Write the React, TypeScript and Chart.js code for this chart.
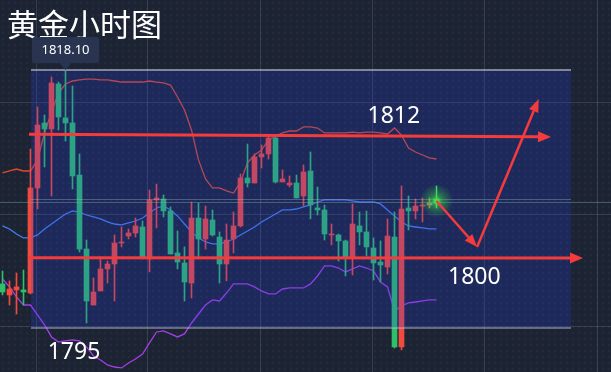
import { useEffect, useRef } from "react";
import { Chart, registerables } from "chart.js";

Chart.register(...registerables);

// ---- Hourly gold candles (index 0..62) ----
const opens = [
  1797.49, 1796.42, 1796.91, 1796.91, 1796.61, 1806.78, 1813.07, 1812.49, 1816.84, 1813.55,
  1813.07, 1808.03, 1800.87, 1795.45, 1796.81, 1798.94, 1799.42, 1801.45, 1802.13, 1802.42,
  1803.0, 1799.91, 1805.62, 1805.71, 1804.55, 1800.49, 1799.52, 1797.58, 1803.87, 1801.84,
  1803.68, 1802.03, 1799.42, 1801.84, 1803.1, 1807.74, 1807.26, 1809.78, 1810.07, 1811.61,
  1807.36, 1807.07, 1807.26, 1806.0, 1808.42, 1804.84, 1804.65, 1802.23, 1802.23, 1801.65,
  1800.1, 1803.1, 1802.52, 1800.97, 1799.61, 1799.13, 1802.03, 1791.39, 1804.84, 1804.55,
  1805.03, 1805.13, 1805.71,
];
const highs = [
  1798.74, 1797.78, 1798.55, 1798.84, 1810.55, 1814.61, 1813.84, 1817.52, 1817.03, 1818.1,
  1816.65, 1810.07, 1801.74, 1798.07, 1800.1, 1799.71, 1802.23, 1803.0, 1802.81, 1803.87,
  1803.58, 1806.58, 1807.16, 1806.1, 1804.94, 1802.61, 1801.07, 1805.42, 1805.32, 1805.03,
  1804.65, 1802.52, 1803.29, 1804.45, 1808.13, 1811.03, 1810.07, 1810.94, 1811.81, 1811.71,
  1808.52, 1807.94, 1808.03, 1809.0, 1810.26, 1806.87, 1805.13, 1803.29, 1802.32, 1801.74,
  1805.23, 1804.45, 1804.55, 1801.94, 1801.65, 1803.78, 1804.45, 1806.97, 1806.0, 1805.71,
  1805.81, 1805.81, 1806.97,
];
const lows = [
  1796.42, 1795.45, 1794.58, 1795.45, 1796.52, 1804.74, 1808.81, 1806.0, 1812.39, 1811.32,
  1806.68, 1800.58, 1793.71, 1795.45, 1796.81, 1797.58, 1795.84, 1801.07, 1801.84, 1802.03,
  1799.91, 1798.65, 1802.91, 1803.97, 1800.39, 1798.94, 1795.84, 1796.13, 1799.91, 1800.87,
  1802.13, 1797.58, 1797.78, 1800.49, 1803.0, 1806.87, 1807.26, 1808.71, 1809.58, 1807.26,
  1807.36, 1806.87, 1805.81, 1805.03, 1803.78, 1804.16, 1801.74, 1801.26, 1799.71, 1798.26,
  1798.36, 1801.26, 1800.2, 1797.87, 1797.68, 1798.45, 1791.29, 1791.1, 1802.71, 1803.78,
  1803.49, 1804.84, 1804.84,
];
const closes = [
  1796.71, 1797.0, 1797.2, 1796.71, 1806.78, 1812.87, 1812.49, 1816.94, 1813.65, 1813.07,
  1807.94, 1800.87, 1795.84, 1796.71, 1798.94, 1799.42, 1801.45, 1801.55, 1802.42, 1803.1,
  1800.0, 1805.62, 1805.81, 1804.55, 1800.39, 1799.61, 1797.68, 1803.87, 1801.84, 1803.78,
  1802.23, 1799.42, 1801.74, 1803.1, 1807.74, 1807.26, 1809.78, 1810.07, 1811.61, 1807.36,
  1807.65, 1807.26, 1805.81, 1808.32, 1805.13, 1804.65, 1802.32, 1802.32, 1801.65, 1800.1,
  1803.29, 1802.52, 1801.07, 1799.52, 1799.32, 1802.13, 1791.39, 1804.74, 1804.55, 1805.03,
  1805.13, 1805.32, 1805.32,
];

// ---- Bollinger bands ----
const upperBand = [
  1808.23, 1808.42, 1808.61, 1808.42, 1808.42, 1809.49, 1812.1, 1814.13, 1815.97, 1816.84,
  1817.13, 1817.23, 1817.32, 1817.32, 1817.23, 1817.23, 1817.13, 1817.03, 1817.03, 1817.03,
  1817.03, 1817.13, 1817.03, 1816.94, 1816.74, 1815.58, 1814.32, 1812.39, 1809.49, 1807.65,
  1806.78, 1806.78, 1806.49, 1806.29, 1807.36, 1809.2, 1809.97, 1810.45, 1811.42, 1811.81,
  1812.1, 1812.29, 1812.29, 1812.68, 1812.68, 1812.58, 1812.1, 1812.1, 1812.1, 1812.1,
  1812.19, 1812.1, 1812.19, 1812.19, 1812.1, 1812.0, 1812.58, 1811.9, 1810.65, 1810.26,
  1809.97, 1809.68, 1809.58,
];
const middleBand = [
  1803.1, 1802.81, 1802.32, 1801.94, 1801.94, 1802.23, 1802.81, 1803.29, 1803.78, 1804.26,
  1804.55, 1804.45, 1804.16, 1803.97, 1803.78, 1803.49, 1803.29, 1803.2, 1803.39, 1803.58,
  1803.87, 1804.36, 1804.84, 1805.03, 1804.65, 1804.07, 1803.29, 1802.52, 1801.94, 1801.55,
  1801.36, 1801.36, 1801.55, 1801.84, 1802.23, 1802.61, 1803.0, 1803.49, 1803.87, 1804.26,
  1804.65, 1804.65, 1804.74, 1804.94, 1805.13, 1805.42, 1805.62, 1805.62, 1805.62, 1805.62,
  1805.52, 1805.42, 1805.42, 1805.42, 1805.23, 1804.65, 1804.07, 1803.49, 1803.1, 1803.0,
  1802.91, 1802.81, 1802.81,
];
const lowerBand = [
  1797.97, 1797.2, 1796.23, 1795.45, 1795.45, 1794.49, 1793.52, 1792.36, 1791.87, 1791.97,
  1792.07, 1791.97, 1791.39, 1790.52, 1790.13, 1789.65, 1789.45, 1789.36, 1789.84, 1790.23,
  1790.71, 1791.78, 1792.84, 1792.94, 1792.65, 1792.36, 1792.65, 1793.71, 1794.58, 1795.45,
  1795.94, 1795.84, 1796.61, 1797.49, 1797.49, 1797.49, 1797.2, 1796.81, 1796.52, 1796.52,
  1797.0, 1797.1, 1797.1, 1797.1, 1797.49, 1798.26, 1799.23, 1799.23, 1799.03, 1798.65,
  1798.94, 1799.23, 1799.03, 1798.74, 1797.68, 1797.2, 1794.87, 1795.36, 1795.65, 1795.74,
  1795.84, 1795.94, 1795.94,
];

// ---- Annotations (in candle-index / price units) ----
const titleText = "黄金小时图";
const highIndex = 9;
const highLabel = "1818.10";
const levelLines = [
  { from: 3.79, to: 78.36, start: 1811.97, end: 1811.72 },
  { from: 3.79, to: 82.93, start: 1800.03, end: 1800.0 },
];
const levelLabels = [
  { text: "1812", at: 55.9, price: 1813.07 },
  { text: "1800", at: 67.4, price: 1797.49 },
  { text: "1795", at: 10.21, price: 1790.23 },
];
const forecastPath = [
  { at: 62, price: 1805.52 },
  { at: 67.8, price: 1801.06 },
  { at: 76.6, price: 1815.39 },
];
const zoneBox = { from: 4.07, to: 81.21, top: 1818.2, bottom: 1793.23 };
const lastIndex = 62;

const X_MIN = -2.5 / 7;
const X_MAX = X_MIN + 611 / 7;
const Y_MAX = 1824.968;
const Y_MIN = 1788.967;

const UP = "#f04b3c";
const DOWN = "#2fbf68";

function arrow(ctx: CanvasRenderingContext2D, x1: number, y1: number, x2: number, y2: number, lw: number, hl: number, hw: number, color: string) {
  const ang = Math.atan2(y2 - y1, x2 - x1);
  const bx = x2 - Math.cos(ang) * hl;
  const by = y2 - Math.sin(ang) * hl;
  ctx.strokeStyle = color;
  ctx.lineWidth = lw;
  ctx.beginPath();
  ctx.moveTo(x1, y1);
  ctx.lineTo(bx, by);
  ctx.stroke();
  ctx.fillStyle = color;
  ctx.beginPath();
  ctx.moveTo(x2, y2);
  ctx.lineTo(bx + Math.sin(ang) * hw, by - Math.cos(ang) * hw);
  ctx.lineTo(bx - Math.sin(ang) * hw, by + Math.cos(ang) * hw);
  ctx.closePath();
  ctx.fill();
}

const decoPlugin = {
  id: "deco",
  beforeDraw(chart: any) {
    const ctx: CanvasRenderingContext2D = chart.ctx;
    const W = chart.width, H = chart.height;
    ctx.save();
    ctx.fillStyle = "#1c2333";
    ctx.fillRect(0, 0, W, H);
    // dot texture
    ctx.fillStyle = "rgba(255,255,255,0.035)";
    for (let y = 3; y < H; y += 6) {
      for (let x = 3; x < W; x += 6) {
        ctx.beginPath();
        ctx.arc(x, y, 1.4, 0, Math.PI * 2);
        ctx.fill();
      }
    }
    // grid
    ctx.strokeStyle = "rgba(190,200,220,0.16)";
    ctx.lineWidth = 1;
    [36, 147, 260, 372, 484, 597].forEach((x) => {
      ctx.beginPath();
      ctx.moveTo(x + 0.5, 0);
      ctx.lineTo(x + 0.5, H);
      ctx.stroke();
    });
    [102, 214, 326].forEach((y) => {
      ctx.beginPath();
      ctx.moveTo(0, y + 0.5);
      ctx.lineTo(W, y + 0.5);
      ctx.stroke();
    });
    ctx.restore();
  },
  afterDatasetsDraw(chart: any) {
    const ctx: CanvasRenderingContext2D = chart.ctx;
    const xs = chart.scales.x, ys = chart.scales.y;
    const l = xs.getPixelForValue(zoneBox.from);
    const r = xs.getPixelForValue(zoneBox.to);
    const t = ys.getPixelForValue(zoneBox.top);
    const b = ys.getPixelForValue(zoneBox.bottom);
    ctx.save();
    ctx.fillStyle = "rgba(42,62,237,0.22)";
    ctx.fillRect(l, t, r - l, b - t);
    ctx.strokeStyle = "rgba(205,210,220,0.75)";
    ctx.lineWidth = 1.5;
    ctx.beginPath();
    ctx.moveTo(l, t);
    ctx.lineTo(r, t);
    ctx.stroke();
    ctx.strokeStyle = "rgba(190,195,205,0.6)";
    ctx.beginPath();
    ctx.moveTo(l, b);
    ctx.lineTo(r, b);
    ctx.stroke();
    // current price lines
    const cy = ys.getPixelForValue(closes[lastIndex]);
    ctx.lineWidth = 1;
    ctx.strokeStyle = "rgba(180,190,200,0.35)";
    ctx.beginPath();
    ctx.moveTo(l, cy - 3.5);
    ctx.lineTo(r, cy - 3.5);
    ctx.stroke();
    ctx.strokeStyle = "rgba(110,170,150,0.45)";
    ctx.beginPath();
    ctx.moveTo(0, cy - 0.5);
    ctx.lineTo(chart.width, cy - 0.5);
    ctx.stroke();
    ctx.restore();
  },
  afterDraw(chart: any) {
    const ctx: CanvasRenderingContext2D = chart.ctx;
    const xs = chart.scales.x, ys = chart.scales.y;
    ctx.save();
    // level lines with arrows
    levelLines.forEach((lv) => {
      arrow(ctx, xs.getPixelForValue(lv.from), ys.getPixelForValue(lv.start), xs.getPixelForValue(lv.to), ys.getPixelForValue(lv.end), 3, 13, 5.5, "#f53b3b");
    });
    // glow on last candle
    const gx = xs.getPixelForValue(lastIndex);
    const gy = ys.getPixelForValue((opens[lastIndex] + closes[lastIndex]) / 2);
    const g = ctx.createRadialGradient(gx, gy, 0, gx, gy, 17);
    g.addColorStop(0, "rgba(90,255,90,0.85)");
    g.addColorStop(0.35, "rgba(60,220,70,0.45)");
    g.addColorStop(1, "rgba(40,200,60,0)");
    ctx.fillStyle = g;
    ctx.beginPath();
    ctx.arc(gx, gy, 17, 0, Math.PI * 2);
    ctx.fill();
    ctx.fillStyle = "#3fe04a";
    ctx.fillRect(gx - 0.5, ys.getPixelForValue(highs[lastIndex]), 1, ys.getPixelForValue(lows[lastIndex]) - ys.getPixelForValue(highs[lastIndex]));
    ctx.fillRect(gx - 2.5, ys.getPixelForValue(opens[lastIndex]), 5, ys.getPixelForValue(closes[lastIndex]) - ys.getPixelForValue(opens[lastIndex]));
    // forecast path
    const pts = forecastPath.map((p) => [xs.getPixelForValue(p.at), ys.getPixelForValue(p.price)]);
    for (let k = 0; k < pts.length - 1; k++) {
      arrow(ctx, pts[k][0], pts[k][1], pts[k + 1][0], pts[k + 1][1], 2.5, 13, 5, "#f53b3b");
    }
    // labels
    ctx.fillStyle = "#ffffff";
    ctx.textAlign = "center";
    ctx.textBaseline = "alphabetic";
    ctx.font = '23px "Noto Sans", sans-serif';
    levelLabels.forEach((lb) => {
      ctx.fillText(lb.text, xs.getPixelForValue(lb.at), ys.getPixelForValue(lb.price));
    });
    // title
    ctx.textAlign = "left";
    ctx.textBaseline = "middle";
    ctx.font = '31px "Noto Sans CJK SC", sans-serif';
    ctx.fillText(titleText, 7, 24);
    // high tooltip
    const hx = xs.getPixelForValue(highIndex);
    const hy = ys.getPixelForValue(highs[highIndex]);
    const bw = 67, bh = 26;
    const bx = hx - bw / 2, by = hy - 34;
    ctx.fillStyle = "#293450";
    ctx.beginPath();
    (ctx as any).roundRect(bx, by, bw, bh, 3);
    ctx.fill();
    ctx.beginPath();
    ctx.moveTo(hx - 6, by + bh);
    ctx.lineTo(hx + 6, by + bh);
    ctx.lineTo(hx, by + bh + 7);
    ctx.closePath();
    ctx.fill();
    ctx.fillStyle = "#ffffff";
    ctx.textAlign = "center";
    ctx.textBaseline = "middle";
    ctx.font = '13px "Noto Sans", sans-serif';
    ctx.fillText(highLabel, hx, by + bh / 2 + 0.5);
    ctx.restore();
  },
};

export default function App() {
  const ref = useRef<HTMLCanvasElement | null>(null);
  useEffect(() => {
    if (!ref.current) return;
    const colors = opens.map((o, i) => (closes[i] >= o ? UP : DOWN));
    colors[61] = "#d08a4a";
    const bodies = opens.map((o, i) => ({ x: i, y: [Math.min(o, closes[i]), Math.max(o, closes[i])] }));
    const wicks = opens.map((_, i) => ({ x: i, y: [lows[i], highs[i]] }));
    const line = (d: number[], color: string) => ({
      type: "line" as const,
      data: d.map((v, i) => ({ x: i, y: v })),
      borderColor: color,
      borderWidth: 1.3,
      pointRadius: 0,
      tension: 0,
      fill: false,
      order: 3,
    });
    const chart = new Chart(ref.current, {
      type: "bar",
      data: {
        datasets: [
          line(upperBand, "#e04a2a"),
          line(middleBand, "#4680ee"),
          line(lowerBand, "#a43ee8"),
          { type: "bar", data: wicks as any, backgroundColor: colors, barThickness: 1, grouped: false, order: 2 },
          { type: "bar", data: bodies as any, backgroundColor: colors, barThickness: 5, grouped: false, minBarLength: 1, order: 1 },
        ] as any,
      },
      options: {
        animation: false,
        responsive: false,
        maintainAspectRatio: false,
        events: [],
        layout: { padding: 0 },
        plugins: { legend: { display: false }, tooltip: { enabled: false } },
        scales: {
          x: { type: "linear", display: false, min: X_MIN, max: X_MAX, offset: false },
          y: { type: "linear", display: false, min: Y_MIN, max: Y_MAX },
        },
      },
      plugins: [decoPlugin],
    });
    return () => chart.destroy();
  }, []);
  return (
    <div style={{ position: "fixed", left: 0, top: 0, width: 611, height: 372, background: "#1c2333" }}>
      <canvas ref={ref} width={611} height={372} style={{ display: "block", width: 611, height: 372 }} />
    </div>
  );
}
